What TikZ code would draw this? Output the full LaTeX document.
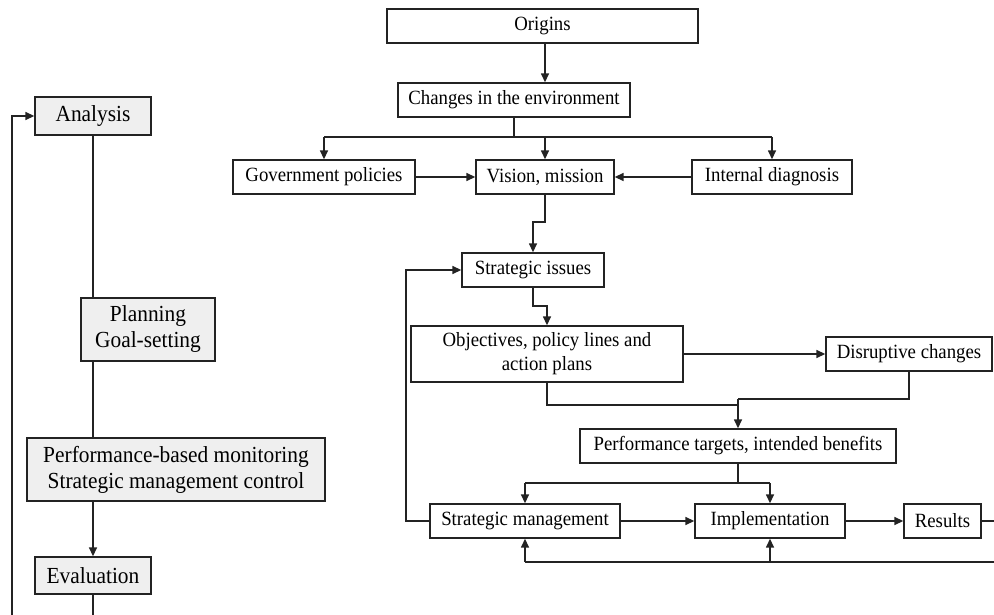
\documentclass[tikz,border=0pt]{standalone}
\usepackage{fontspec}
\setmainfont{Liberation Serif}[FakeStretch=0.93]
\usetikzlibrary{arrows.meta,calc}
\definecolor{boxfill}{RGB}{239,239,239}
\definecolor{edge}{RGB}{35,35,35}
\begin{document}
\begin{tikzpicture}[x=1pt,y=-1pt,
  box/.style={draw=edge,line width=1.4pt,inner sep=0pt,align=center,
    font=\fontsize{20.2}{24}\selectfont},
  gbox/.style={box,fill=boxfill,font=\fontsize{23}{26}\selectfont},
  link/.style={draw=edge,line width=1.5pt},
  arr/.style={link,-{Triangle[length=9pt,width=8pt]}},
]
\useasboundingbox (0,0) rectangle (994,615);

% ---- management cycle (left column)
\node[gbox,minimum width=116,minimum height=38] (analysis) at (93,116) {Analysis};
\node[gbox,minimum width=134,minimum height=63] (planning) at (148,329.5) {Planning\\Goal-setting};
\node[gbox,minimum width=298,minimum height=63] (monitor) at (176,469.5)
  {Performance-based monitoring\\Strategic management control};
\node[gbox,minimum width=116,minimum height=37] (evaluation) at (93,575.5) {Evaluation};

\draw[link] (analysis.south) -- (analysis.south |- planning.north);
\draw[link] (analysis.south |- planning.south) -- (analysis.south |- monitor.north);
\draw[arr] (analysis.south |- monitor.south) -- (evaluation.north);
\coordinate (evalout) at (93,615);
\draw[link] (evaluation.south) -- (evalout);
\coordinate (loopin) at (12,615);
\draw[arr] (loopin) |- (analysis.west);

% ---- strategy process (right part)
\node[box,minimum width=311,minimum height=34] (origins) at (542.5,26) {Origins};
\node[box,minimum width=232,minimum height=34] (changes) at (514,100) {Changes in the environment};
\node[box,minimum width=182,minimum height=34] (gov) at (324,177) {Government policies};
\node[box,minimum width=138,minimum height=34] (vision) at (545,177) {Vision, mission};
\node[box,minimum width=160,minimum height=34] (internal) at (772,177) {Internal diagnosis};
\node[box,minimum width=142,minimum height=34] (issues) at (533,270) {Strategic issues};
\node[box,minimum width=272,minimum height=56] (objectives) at (547,354)
  {Objectives, policy lines and\\action plans};
\node[box,minimum width=166,minimum height=34] (disruptive) at (909,354) {Disruptive changes};
\node[box,minimum width=316,minimum height=34] (targets) at (738,446) {Performance targets, intended benefits};
\node[box,minimum width=190,minimum height=34] (mgmt) at (525,521) {Strategic management};
\node[box,minimum width=150,minimum height=34] (impl) at (770,521) {Implementation};
\node[box,minimum width=77,minimum height=34] (results) at (942.5,521) {Results};

\draw[arr] (origins.south -| vision.north) -- (vision.north |- changes.north);
\coordinate (split) at (514,137);
\draw[link] (changes.south) -- (split);
\draw[link] (gov.north |- split) -- (internal.north |- split);
\draw[arr] (gov.north |- split) -- (gov.north);
\draw[arr] (vision.north |- split) -- (vision.north);
\draw[arr] (internal.north |- split) -- (internal.north);
\draw[arr] (gov.east) -- (vision.west);
\draw[arr] (internal.west) -- (vision.east);

\coordinate (v1) at (533,222);
\draw[arr] (vision.south) |- (v1) -- (issues.north);
\coordinate (i1) at (533,306);
\draw[arr] (issues.south) -- (i1) -| (objectives.north);

\draw[arr] (objectives.east) -- (disruptive.west);
\coordinate (m1) at (738,399);
\coordinate (m2) at (738,405);
\draw[link] (disruptive.south) |- (m1);
\draw[link] (objectives.south) |- (m2);
\draw[arr] (m1) -- (targets.north);

\coordinate (t1) at (738,483);
\draw[link] (targets.south) -- (t1);
\draw[link] (mgmt.north |- t1) -- (impl.north |- t1);
\draw[arr] (mgmt.north |- t1) -- (mgmt.north);
\draw[arr] (impl.north |- t1) -- (impl.north);

\draw[arr] (mgmt.east) -- (impl.west);
\draw[arr] (impl.east) -- (results.west);
\coordinate (rout) at (994,521);
\draw[link] (results.east) -- (rout);

\coordinate (fb) at (994,562);
\draw[link] (fb) -- (mgmt.south |- fb);
\draw[arr] (mgmt.south |- fb) -- (mgmt.south);
\draw[arr] (impl.south |- fb) -- (impl.south);

\coordinate (f1) at (406,521);
\draw[arr] (mgmt.west) -- (f1) |- (issues.west);
\end{tikzpicture}
\end{document}
